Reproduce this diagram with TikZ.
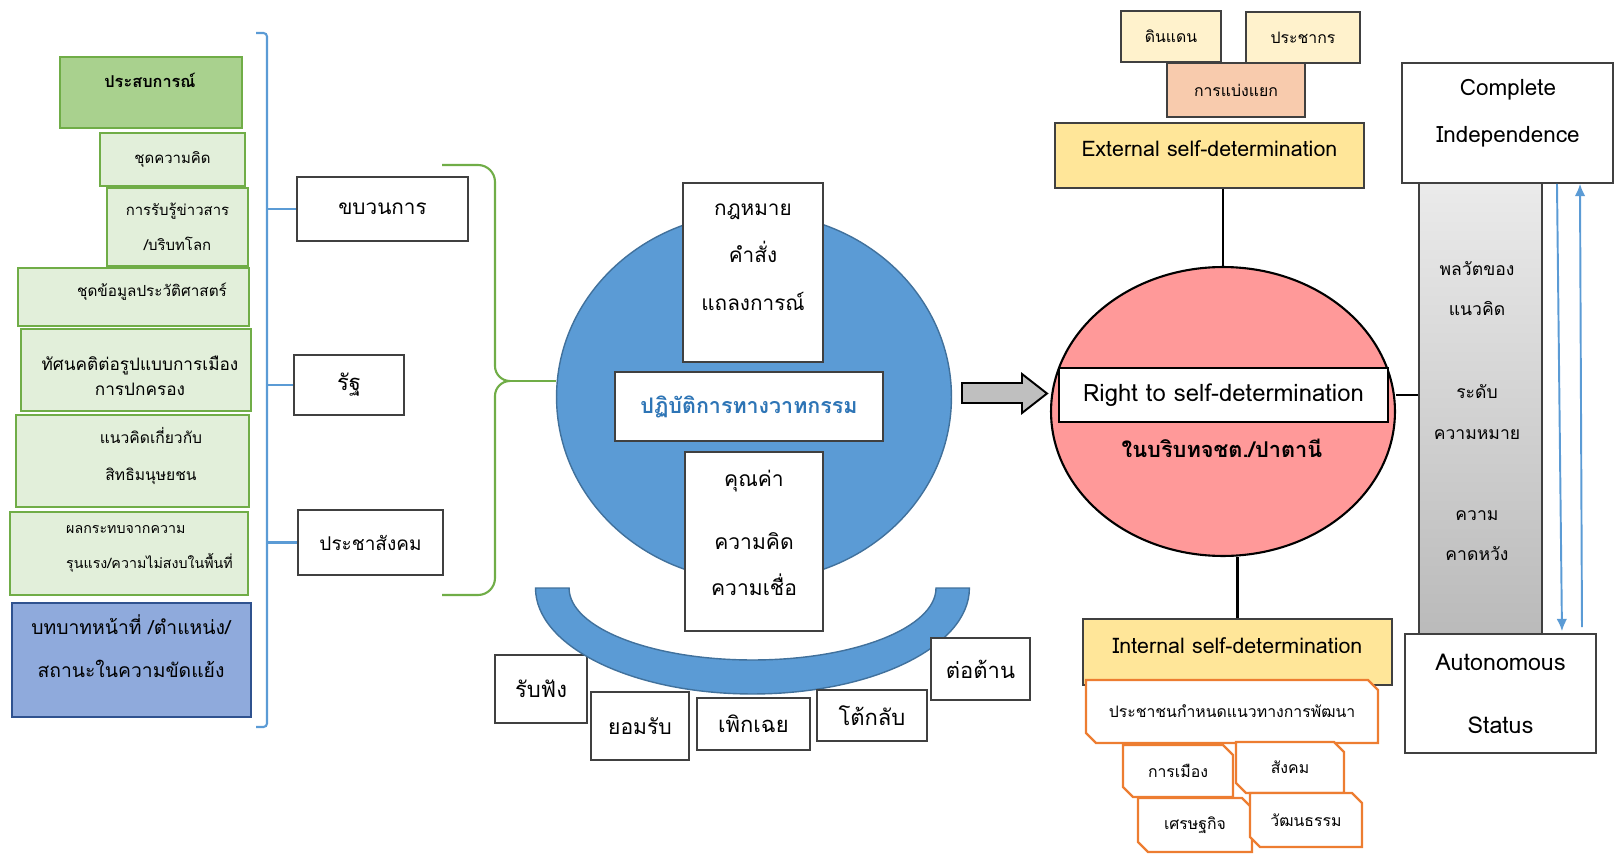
\documentclass[tikz,border=0pt]{standalone}
\usepackage{fontspec}
\setmainfont[Script=Thai]{Loma}
\usetikzlibrary{arrows.meta, positioning, shapes.geometric, shapes.misc}

\definecolor{grnlight}{HTML}{E2EFDA}
\definecolor{grndark}{HTML}{A9D18E}
\definecolor{grnline}{HTML}{70AD47}
\definecolor{bluebox}{HTML}{8FAADC}
\definecolor{blueline}{HTML}{2F528F}
\definecolor{skyblue}{HTML}{5B9BD5}
\definecolor{discline}{HTML}{41719C}
\definecolor{txtblue}{HTML}{2E75B6}
\definecolor{cream}{HTML}{FFF2CC}
\definecolor{peach}{HTML}{F8CBAD}
\definecolor{gold}{HTML}{FFE699}
\definecolor{pinkred}{HTML}{FF9999}
\definecolor{orangeline}{HTML}{ED7D31}

\newcommand{\setfs}[2]{\fontsize{#1}{#2}\selectfont}

\tikzset{
  lbox/.style={draw=grnline, fill=grnlight, line width=0.9pt, inner sep=0pt},
  wbox/.style={draw=black!75, fill=white, line width=0.9pt, inner sep=0pt},
  ybox/.style={draw=black!75, line width=0.9pt, inner sep=0pt},
  obox/.style={chamfered rectangle, chamfered rectangle corners={north east, south west},
    chamfered rectangle xsep=0.1cm, chamfered rectangle ysep=0.1cm,
    draw=orangeline, fill=white, line width=1.3pt, inner sep=0pt, font=\setfs{9}{12}},
  bluebrk/.style={draw=skyblue, line width=1.2pt},
  grnbrace/.style={draw=grnline, line width=1.2pt},
  flow/.style={draw=skyblue, line width=1.1pt, -{Latex[length=7pt,width=6pt]}}
}

\begin{document}
\begin{tikzpicture}[x=0.02cm, y=-0.02cm]
    \useasboundingbox (0,0) rectangle (1614,855);

    % Left column: experience boxes
    \node[lbox, fill=grndark, minimum width=3.64cm, minimum height=1.42cm] (exp) at (151,92.5) {};
    \node[font=\setfs{9.3}{12}\bfseries] (exptxt) at (150,80) {ประสบการณ์};
    \node[lbox, minimum width=2.9cm, minimum height=1.06cm, font=\setfs{8.5}{12}] (idea) at (172.5,159.5) {ชุดความคิด};
    \node[lbox, minimum width=2.82cm, minimum height=1.56cm, align=center, font=\setfs{8.5}{19.8}] (news) at (177.5,227) {การรับรู้ข่าวสาร\\/บริบทโลก};
    \node[lbox, minimum width=4.62cm, minimum height=1.16cm] (hist) at (133.5,297) {};
    \node[font=\setfs{8.7}{12}] (histtxt) at (152,292) {ชุดข้อมูลประวัติศาสตร์};
    \node[lbox, minimum width=4.6cm, minimum height=1.64cm] (att) at (136,370) {};
    \node[align=center, font=\setfs{9.8}{14.2}] (atttxt) at (140,375.5) {ทัศนคติต่อรูปแบบการเมือง\\การปกครอง};
    \node[lbox, minimum width=4.66cm, minimum height=1.84cm] (hr) at (132.5,461) {};
    \node[align=center, font=\setfs{8.9}{21.5}] (hrtxt) at (151,456) {แนวคิดเกี่ยวกับ\\สิทธิมนุษยชน};
    \node[lbox, minimum width=4.76cm, minimum height=1.66cm] (imp) at (129,553.5) {};
    \node[anchor=west, align=left, font=\setfs{8.1}{19.8}] (imptxt) at (60,549) {ผลกระทบจากความ\\รุนแรง/ความไม่สงบในพื้นที่};
    \node[draw=blueline, fill=bluebox, line width=0.9pt, minimum width=4.78cm, minimum height=2.28cm] (role) at (131.5,660) {};
    \node[align=center, font=\setfs{11}{24.4}] (roletxt) at (131,646.5) {บทบาทหน้าที่ /ตำแหน่ง/\\สถานะในความขัดแย้ง};

    % Actors
    \node[wbox, minimum width=3.42cm, minimum height=1.28cm, font=\setfs{11.8}{16}] (khabuan) at (382.5,209) {ขบวนการ};
    \node[wbox, minimum width=2.2cm, minimum height=1.2cm, font=\setfs{12.5}{16}] (rat) at (349,385) {รัฐ};
    \node[wbox, minimum width=2.9cm, minimum height=1.3cm, font=\setfs{10.8}{16}] (pracha) at (370.5,542.5) {ประชาสังคม};

    % Blue bracket
    \coordinate (brk) at (267,0);
    \draw[bluebrk, rounded corners=2pt] (256,33) -- (267,33) -- (267,727) -- (256,727);
    \draw[bluebrk] (khabuan.west -| brk) -- (khabuan.west);
    \draw[bluebrk] (rat.west -| brk) -- (rat.west);
    \draw[bluebrk] (pracha.west -| brk) -- (pracha.west);

    % Discourse circle
    \node[ellipse, draw=discline, fill=skyblue, line width=0.8pt, minimum width=7.9cm, minimum height=7.36cm] (disc) at (754,397) {};
    \node[wbox, minimum width=2.8cm, minimum height=3.58cm] (law) at (753,272.5) {};
    \node[align=center, font=\setfs{11.8}{26.9}] (lawtxt) at (753,257) {กฎหมาย\\คำสั่ง\\แถลงการณ์};
    \node[wbox, minimum width=5.36cm, minimum height=1.38cm, font=\setfs{12.2}{16}\bfseries, text=txtblue] (prac) at (749,406.5) {ปฏิบัติการทางวาทกรรม};
    \node[wbox, minimum width=2.76cm, minimum height=3.58cm] (val) at (754,541.5) {};
    \node[align=center, font=\setfs{12}{26.1}] (valtxt) at (754,533) {คุณค่า\\[10pt]ความคิด\\ความเชื่อ};

    % Green brace to the circle
    \draw[grnbrace] (442,165) -- (478,165) to[out=0, in=90] (495,182) -- (495,366)
        to[out=-90, in=180] (510,381) coordinate (brtip) to[out=180, in=90] (495,396)
        -- (495,578) to[out=-90, in=0] (478,595) -- (442,595);
    \draw[grnbrace] (brtip) -- (brtip -| disc.west);

    % Responses
    \node[wbox, minimum width=1.84cm, minimum height=1.36cm, font=\setfs{12.5}{16}] (listen) at (541,689) {รับฟัง};
    \draw[draw=discline, fill=skyblue, line width=0.8pt] (535.5,588)
        arc[start angle=180, end angle=360, x radius=4.34cm, y radius=2.12cm] -- (936,588)
        arc[start angle=0, end angle=-180, x radius=3.67cm, y radius=1.44cm] -- cycle;
    \node[wbox, minimum width=1.96cm, minimum height=1.36cm, font=\setfs{12}{16}] (accept) at (640,726) {ยอมรับ};
    \node[wbox, minimum width=2.26cm, minimum height=1.04cm, font=\setfs{12.5}{16}] (ignore) at (753.5,724) {เพิกเฉย};
    \node[wbox, minimum width=2.2cm, minimum height=1.02cm, font=\setfs{12.5}{16}] (counter) at (872,715.5) {โต้กลับ};
    \node[wbox, minimum width=1.98cm, minimum height=1.24cm, font=\setfs{12.5}{16}] (resist) at (980.5,669) {ต่อต้าน};

    % Block arrow
    \draw[fill=black!25, line width=1.1pt] (962,383) -- (1022,383) -- (1022,374) -- (1047,393.5)
        -- (1022,413) -- (1022,403) -- (962,403) -- cycle;

    % External self-determination
    \node[ybox, fill=cream, minimum width=2cm, minimum height=1.02cm, font=\setfs{9}{12}] (land) at (1171,36.5) {ดินแดน};
    \node[ybox, fill=cream, minimum width=2.28cm, minimum height=1.02cm, font=\setfs{9}{12}] (pop) at (1303,37.5) {ประชากร};
    \node[ybox, fill=peach, minimum width=2.76cm, minimum height=1.08cm, font=\setfs{9}{12}] (split) at (1236,90) {การแบ่งแยก};
    \node[ybox, fill=gold, minimum width=6.18cm, minimum height=1.3cm] (ext) at (1209.5,155.5) {};
    \node[font=\setfs{12.2}{14}] (exttxt) at (1209.5,149) {External self-determination};

    % Right to self-determination
    \node[ellipse, draw=black, fill=pinkred, line width=1.2pt, minimum width=6.88cm, minimum height=5.78cm] (rsd) at (1223,411.5) {};
    \node[wbox, draw=black, minimum width=6.58cm, minimum height=1.08cm, font=\setfs{13.6}{16}] (rtsd) at (1223.5,395) {Right to self-determination};
    \node[font=\setfs{12.4}{14}\bfseries] (patani) at (1222,448) {ในบริบทจชต./ปาตานี};
    \draw[line width=1.2pt] (rsd.north |- ext.south) -- (rsd.north);

    % Internal self-determination
    \node[ybox, fill=gold, minimum width=6.18cm, minimum height=1.32cm] (intd) at (1237.5,652) {};
    \node[font=\setfs{12.2}{14}] (intdtxt) at (1237.5,646) {Internal self-determination};
    \draw[line width=1.2pt] (rsd.south -| intd.north) -- (intd.north);
    \node[obox, minimum width=5.84cm, minimum height=1.26cm] (develop) at (1232,711.5) {ประชาชนกำหนดแนวทางการพัฒนา};
    \node[obox, minimum width=2.2cm, minimum height=1.04cm] (politics) at (1178,771) {การเมือง};
    \node[obox, minimum width=2.16cm, minimum height=1.02cm] (society) at (1290,767.5) {สังคม};
    \node[obox, minimum width=2.28cm, minimum height=1.08cm] (economy) at (1195,825) {เศรษฐกิจ};
    \node[obox, minimum width=2.24cm, minimum height=1.08cm] (culture) at (1306,820) {วัฒนธรรม};

    % Scale of meaning
    \node[wbox, minimum width=4.22cm, minimum height=2.4cm] (comp) at (1507.5,123) {};
    \node[align=center, font=\setfs{12.8}{26.6}] (comptxt) at (1508,113.5) {Complete\\Independence};
    \node[draw=black!75, line width=0.9pt, top color=black!8, bottom color=black!27, minimum width=2.46cm, minimum height=9.02cm] (bar) at (1480.5,408.5) {};
    \node[align=center, font=\setfs{10}{23.2}] (dyn) at (1477,288.5) {พลวัตของ\\แนวคิด};
    \node[align=center, font=\setfs{10}{23.2}] (lvl) at (1477,412) {ระดับ\\ความหมาย};
    \node[align=center, font=\setfs{10}{23.2}] (hope) at (1477,535.5) {ความ\\คาดหวัง};
    \node[wbox, minimum width=3.82cm, minimum height=2.38cm, align=center, font=\setfs{13.2}{35.7}] (aut) at (1500.5,693.5) {Autonomous\\Status};
    \draw[line width=1.2pt] (rtsd.east -| rsd.east) -- (rtsd.east -| bar.west);
    \draw[flow] ([xshift=0.99cm]comp.south) -- ([xshift=1.23cm, yshift=0.04cm]aut.north);
    \draw[flow] ([xshift=1.63cm, yshift=0.12cm]aut.north) -- ([xshift=1.45cm]comp.south);
\end{tikzpicture}
\end{document}
